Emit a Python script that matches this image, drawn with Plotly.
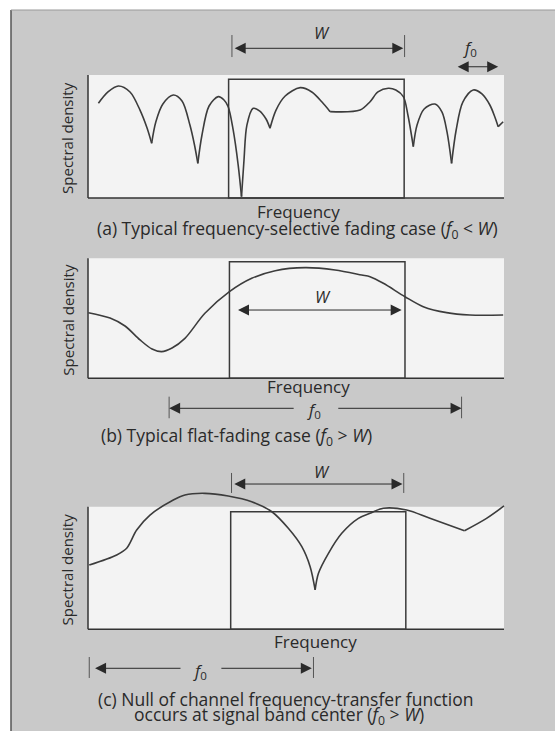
import plotly.graph_objects as go

# ---------------- data (arbitrary units: frequency 0-100 across the frame, density 0-100 up the frame) ----
a_freq = [2.5, 4.8, 7.3, 10.1, 12.5, 14.2, 15.3, 16.3, 18.0, 20.5, 22.6, 24.5, 25.6, 26.4,
          27.4, 29.1, 31.3, 32.7, 33.7, 34.9, 36.1, 36.9, 37.5, 38.2, 39.7, 41.3, 42.8, 43.75,
          45.2, 47.4, 51.0, 53.8, 56.25, 58.2, 65.4, 67.8, 69.7, 72.2, 74.0, 75.8, 76.9, 78.2,
          79.1, 80.8, 83.4, 85.1, 86.3, 87.4, 88.5, 90.1, 92.6, 94.7, 96.6, 97.8, 98.6, 99.8]
a_dens = [77.0, 86.2, 91.1, 86.2, 71.5, 56.9, 44.5, 61.8, 76.4, 83.7, 78.9, 59.3, 43.1, 28.2,
          51.2, 74.8, 82.4, 79.7, 74.2, 55.3, 26.8, 1.1, 30.9, 59.3, 72.9, 70.7, 64.2, 56.7,
          71.5, 82.9, 89.7, 86.2, 78.0, 70.2, 71.5, 78.3, 86.2, 89.2, 87.8, 82.4, 67.5, 41.7,
          59.3, 72.4, 76.4, 69.9, 53.7, 28.2, 55.3, 78.0, 87.8, 84.6, 75.6, 65.9, 58.0, 62.0]

b_freq = [0.1, 5.3, 8.9, 12.5, 15.4, 17.7, 20.2, 23.3, 28.1, 34.0, 39.35, 45.0, 52.2, 59.4,
          65.8, 67.8, 71.0, 76.2, 80.6, 86.2, 91.8, 99.8]
b_dens = [54.7, 50.25, 43.6, 32.0, 24.4, 22.2, 25.25, 33.3, 54.2, 72.2, 83.3, 89.7, 92.2, 90.25,
          86.1, 84.7, 79.2, 68.0, 59.7, 54.7, 52.75, 52.75]

c_freq = [0.3, 6.9, 9.3, 11.7, 14.9, 20.5, 23.3, 28.1, 33.7, 39.35, 44.2, 48.15, 51.4, 53.4,
          54.6, 55.4, 57.8, 61.0, 65.0, 67.8, 71.0, 76.6, 82.2, 90.5, 95.8, 100.0]
c_dens = [52.4, 60.6, 66.1, 81.0, 93.2, 105.5, 109.6, 110.9, 108.7, 104.1, 95.9, 82.4, 67.4, 51.1,
          32.1, 45.7, 62.0, 78.3, 90.5, 94.6, 98.7, 97.3, 90.5, 80.4, 90.5, 100.6]

# signal band [start, end] and height of the band
band_a = [33.8, 76.0]; band_h_a = 96.5
band_b = [34.0, 76.2]; band_h_b = 97.2
band_c = [34.3, 76.4]; band_h_c = 95.9

# bandwidth markers (W) and coherence bandwidth markers (f0)
w_span_a = [34.9, 75.8]
w_span_b = [35.7, 75.4]
w_span_c = [34.8, 75.6]
f0_span_a = [88.5, 98.6]
f0_span_b = [19.5, 89.8]
f0_span_c = [0.3, 54.2]

captions = [
    "(a) Typical frequency-selective fading case (<i>f</i><sub>0</sub> &lt; <i>W</i>)",
    "(b) Typical flat-fading case (<i>f</i><sub>0</sub> &gt; <i>W</i>)",
    "(c) Null of channel frequency-transfer function",
    "occurs at signal band center (<i>f</i><sub>0</sub> &gt; <i>W</i>)",
]

# ---------------- geometry (pixels) ----------------
WPX, HPX = 555, 731
X_LEFT, X_SCALE = 88.0, 4.16          # pixel of frequency 0, pixels per unit
panels = [
    dict(bottom=198.0, s=1.23, top=9, bot=242),
    dict(bottom=378.3, s=1.20, top=242, bot=452),
    dict(bottom=629.3, s=1.226, top=452, bot=731),
]

FONT = "Open Sans"
INK = "#2a2a2a"
BG = "#c9c9c9"
PLOT = "#f3f3f3"
CAP = 17.5
LBL = 17
SYM = 16.5

fig = go.Figure()
layout = dict(width=WPX, height=HPX, margin=dict(l=0, r=0, t=0, b=0),
              paper_bgcolor="white", plot_bgcolor="rgba(0,0,0,0)", showlegend=False)
shapes = []
annotations = []

# page frame
shapes.append(dict(type="rect", xref="paper", yref="paper", x0=11 / WPX, x1=1, y0=0,
                   y1=1 - 10 / HPX, fillcolor=BG, line=dict(width=0), layer="below"))
shapes.append(dict(type="line", xref="paper", yref="paper", x0=11 / WPX, x1=11 / WPX, y0=0,
                   y1=1 - 10 / HPX, line=dict(color="#555", width=1.5), layer="below"))
shapes.append(dict(type="line", xref="paper", yref="paper", x0=11 / WPX, x1=1, y0=1 - 10 / HPX,
                   y1=1 - 10 / HPX, line=dict(color="#999", width=1), layer="below"))

xr = [(0 - X_LEFT) / X_SCALE, (WPX - X_LEFT) / X_SCALE]


def split_at_minima(xs, ys):
    idx = [0] + [i for i in range(1, len(ys) - 1) if ys[i] < ys[i - 1] and ys[i] < ys[i + 1]] + [len(ys) - 1]
    return [(xs[a:b + 1], ys[a:b + 1]) for a, b in zip(idx[:-1], idx[1:])]


def arrow(xa, ya, y, tip, tail, both=False):
    d = dict(x=tip, y=y, ax=tail, ay=y, xref=xa, yref=ya, axref=xa, ayref=ya, text="",
             showarrow=True, arrowhead=2, arrowsize=2.2, arrowwidth=1, arrowcolor=INK, standoff=0)
    if both:
        d.update(arrowside="end+start", startarrowhead=2, startarrowsize=2.2, startstandoff=0)
    return d


def tick(xa, ya, x, y0, y1):
    return dict(type="line", xref=xa, yref=ya, x0=x, x1=x, y0=y0, y1=y1,
                line=dict(color="#555", width=1))


def label(xa, ya, x, y, text, size, **kw):
    d = dict(x=x, y=y, xref=xa, yref=ya, text=text, showarrow=False,
             font=dict(family=FONT, size=size, color=INK))
    d.update(kw)
    return d


curves = [(a_freq, a_dens, True), (b_freq, b_dens, False), (c_freq, c_dens, True)]
bands = [(band_a, band_h_a), (band_b, band_h_b), (band_c, band_h_c)]

for i, p in enumerate(panels):
    n = "" if i == 0 else str(i + 1)
    xa, ya = "x" + n, "y" + n
    yr = [(p["bottom"] - p["bot"]) / p["s"], (p["bottom"] - p["top"]) / p["s"]]
    layout["xaxis" + n] = dict(domain=[0, 1], range=xr, visible=False, fixedrange=True, anchor=ya)
    layout["yaxis" + n] = dict(domain=[1 - p["bot"] / HPX, 1 - p["top"] / HPX], range=yr,
                               visible=False, fixedrange=True, anchor=xa)

    shapes.append(dict(type="rect", xref=xa, yref=ya, x0=0, x1=100, y0=0, y1=100,
                       fillcolor=PLOT, line=dict(width=0), layer="below"))
    shapes.append(dict(type="line", xref=xa, yref=ya, x0=0, x1=0, y0=0, y1=100,
                       line=dict(color="#333", width=1.5)))
    shapes.append(dict(type="line", xref=xa, yref=ya, x0=0, x1=100, y0=0, y1=0,
                       line=dict(color="#333", width=1.5)))
    band, bh = bands[i]
    shapes.append(dict(type="rect", xref=xa, yref=ya, x0=band[0], x1=band[1], y0=0, y1=bh,
                       line=dict(color="#3a3a3a", width=1.5), fillcolor="rgba(0,0,0,0)"))

    xs, ys, cusp = curves[i]
    segs = split_at_minima(xs, ys) if cusp else [(xs, ys)]
    for sx, sy in segs:
        fig.add_trace(go.Scatter(x=sx, y=sy, xaxis=xa, yaxis=ya, mode="lines",
                                 line=dict(color="#3c3c3c", width=1.6, shape="spline", smoothing=0.9),
                                 hoverinfo="skip"))

    annotations.append(label(xa, ya, -5.0, 49, "Spectral density", 15, textangle=-90))

# ---- panel (a) ----
annotations.append(label("x", "y", 50.7, -11.1, "Frequency", LBL))
annotations.append(arrow("x", "y", 121.7, w_span_a[1], w_span_a[0], both=True))
shapes += [tick("x", "y", w_span_a[0] - 0.3, 114.6, 132.5), tick("x", "y", w_span_a[1] + 0.3, 114.6, 132.5)]
annotations.append(label("x", "y", 56.2, 134.6, "<i>W</i>", SYM))
annotations.append(arrow("x", "y", 106.7, f0_span_a[1], f0_span_a[0], both=True))
annotations.append(label("x", "y", 91.8, 122, "<i>f</i><sub>0</sub>", SYM))
annotations.append(label("x", "y", 1.7, -26.0, captions[0], CAP, xanchor="left"))

# ---- panel (b) ----
annotations.append(label("x2", "y2", 53.1, -7.0, "Frequency", LBL))
annotations.append(arrow("x2", "y2", 56.9, w_span_b[1], w_span_b[0], both=True))
annotations.append(label("x2", "y2", 56.6, 68.0, "<i>W</i>", SYM))
annotations.append(arrow("x2", "y2", -25.0, f0_span_b[0], 49.8))
annotations.append(arrow("x2", "y2", -25.0, f0_span_b[1], 59.8))
shapes += [tick("x2", "y2", f0_span_b[0], -15.3, -33.3), tick("x2", "y2", f0_span_b[1], -15.3, -33.3)]
annotations.append(label("x2", "y2", 54.3, -26.4, "<i>f</i><sub>0</sub>", SYM))
annotations.append(label("x2", "y2", 2.6, -48.7, captions[1], CAP, xanchor="left"))

# ---- panel (c) ----
annotations.append(label("x3", "y3", 54.6, -10.1, "Frequency", LBL))
annotations.append(arrow("x3", "y3", 118.5, w_span_c[1], w_span_c[0], both=True))
shapes += [tick("x3", "y3", w_span_c[0] - 0.3, 111.2, 127.5), tick("x3", "y3", w_span_c[1] + 0.3, 111.2, 127.5)]
annotations.append(label("x3", "y3", 56.2, 128.5, "<i>W</i>", SYM))
annotations.append(arrow("x3", "y3", -31.8, f0_span_c[0] + 1.4, 22.6))
annotations.append(arrow("x3", "y3", -31.8, f0_span_c[1] - 0.4, 31.7))
shapes += [tick("x3", "y3", f0_span_c[0], -22.6, -39.7), tick("x3", "y3", f0_span_c[1], -22.6, -39.7)]
annotations.append(label("x3", "y3", 26.9, -34.0, "<i>f</i><sub>0</sub>", SYM))
annotations.append(label("x3", "y3", 1.9, -56.6, captions[2], CAP, xanchor="left"))
annotations.append(label("x3", "y3", 10.5, -70.4, captions[3], CAP, xanchor="left"))

layout["shapes"] = shapes
layout["annotations"] = annotations
fig.update_layout(**layout)
fig.write_html("out.html")
